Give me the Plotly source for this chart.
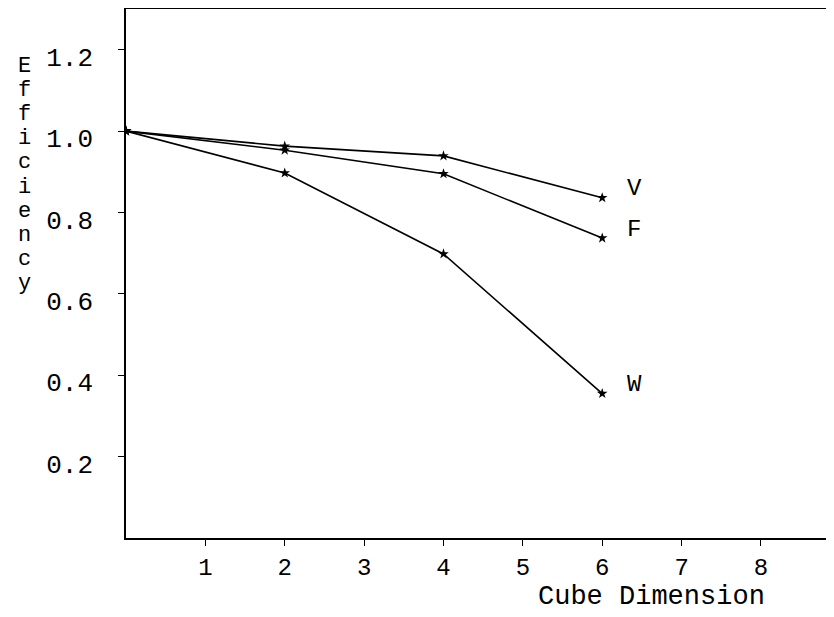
import plotly.graph_objects as go

# Data
cube_dim = [0, 2, 4, 6]
series_names = ["V", "F", "W"]
eff_V = [1.0, 0.963, 0.939, 0.836]
eff_F = [1.0, 0.953, 0.895, 0.737]
eff_W = [1.0, 0.897, 0.698, 0.355]
series_vals = [eff_V, eff_F, eff_W]

x_ticks = [1, 2, 3, 4, 5, 6, 7, 8]
y_ticks = [0.2, 0.4, 0.6, 0.8, 1.0, 1.2]
y_ticktext = ["0.2", "0.4", "0.6", "0.8", "1.0", "1.2"]
x_title = "Cube Dimension"
y_title = "Efficiency"

FONT = "Liberation Mono, Courier New, monospace"

fig = go.Figure()
for name, vals in zip(series_names, series_vals):
    fig.add_trace(go.Scatter(
        x=cube_dim, y=vals, mode="lines+markers", name=name,
        line=dict(color="black", width=1.6),
        marker=dict(symbol="star", size=8, color="black"),
        showlegend=False,
    ))
    fig.add_annotation(
        x=cube_dim[-1], y=vals[-1], xref="x", yref="y", text=name,
        showarrow=False, xshift=32, yshift=9,
        font=dict(family=FONT, size=24, color="black"),
    )

# x-axis title placed at lower right as in the reference
fig.add_annotation(
    x=6.62, y=0, xref="x", yref="paper", text=x_title, showarrow=False,
    yanchor="middle", yshift=-59,
    font=dict(family=FONT, size=27, color="black"),
)

# vertical stacked y-axis title, one letter per line
for i, ch in enumerate(y_title):
    fig.add_annotation(
        x=0, y=1, xref="paper", yref="paper", text=ch, showarrow=False,
        xanchor="center", yanchor="middle",
        xshift=-102, yshift=-(57 + 24.2 * i),
        font=dict(family=FONT, size=22, color="black"),
    )

# page body adds an 8px offset, so the figure is sized 8px smaller
fig.update_layout(
    width=826, height=609,
    margin=dict(l=118, r=0, t=1, b=79),
    paper_bgcolor="white", plot_bgcolor="white",
    font=dict(family=FONT, size=24, color="black"),
    xaxis=dict(
        range=[0, 8.92], tickvals=x_ticks, ticktext=[str(v) for v in x_ticks],
        showgrid=False, zeroline=False, showline=True, linecolor="black",
        linewidth=1.5, mirror=True, ticks="outside", ticklen=6,
        tickcolor="black", tickfont=dict(family=FONT, size=24),
    ),
    yaxis=dict(
        range=[0, 1.3], tickvals=y_ticks, ticktext=y_ticktext,
        showgrid=False, zeroline=False, showline=True, linecolor="black",
        linewidth=1.5, ticks="outside", ticklen=6, tickcolor="black",
        tickfont=dict(family=FONT, size=26), ticklabelshift=7,
        ticklabelstandoff=20,
    ),
)

fig.write_html("out.html")
